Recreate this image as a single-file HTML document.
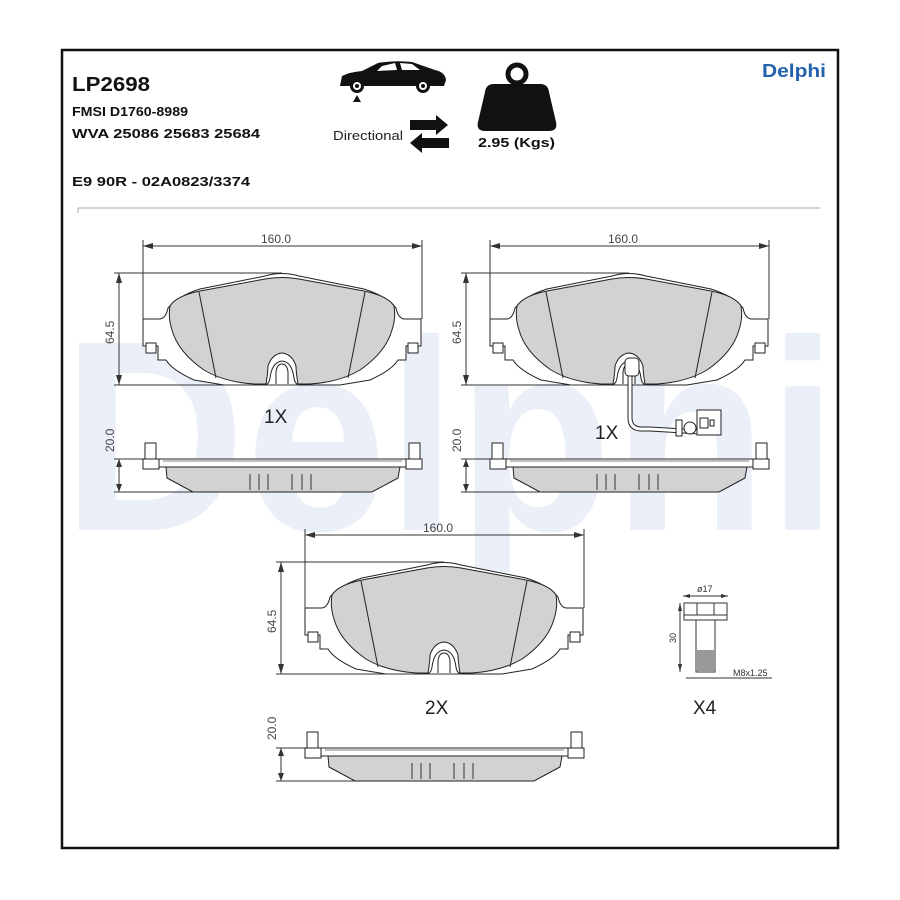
<!DOCTYPE html>
<html><head><meta charset="utf-8"><style>
html,body{margin:0;padding:0;background:#fff;}
svg{display:block;}
text{font-family:"Liberation Sans",sans-serif;}
</style></head><body>
<svg width="900" height="900" viewBox="0 0 900 900" xmlns="http://www.w3.org/2000/svg">
<rect x="0" y="0" width="900" height="900" fill="#fff"/>
<!-- watermark -->
<text x="62" y="530" font-size="272" font-weight="bold" fill="#ebf0f8" textLength="776" lengthAdjust="spacingAndGlyphs">Delphi</text>
<rect x="62" y="50" width="776" height="798" fill="none" stroke="#111" stroke-width="2.5"/>
<!-- header -->
<text x="72" y="91" font-size="20" font-weight="bold" fill="#111" textLength="78" lengthAdjust="spacingAndGlyphs">LP2698</text>
<text x="72" y="116" font-size="13" font-weight="bold" fill="#111" textLength="116" lengthAdjust="spacingAndGlyphs">FMSI D1760-8989</text>
<text x="72" y="138" font-size="13" font-weight="bold" fill="#111" textLength="188" lengthAdjust="spacingAndGlyphs">WVA 25086 25683 25684</text>
<text x="72" y="186" font-size="13" font-weight="bold" fill="#111" textLength="178" lengthAdjust="spacingAndGlyphs">E9 90R - 02A0823/3374</text>
<text x="762" y="77" font-size="18" font-weight="bold" fill="#2462ad" textLength="64" lengthAdjust="spacingAndGlyphs">Delphi</text>
<line x1="78" y1="208" x2="820" y2="208" stroke="#aaa" stroke-width="1"/>
<line x1="78" y1="208" x2="78" y2="213" stroke="#aaa" stroke-width="1"/>
<!-- car -->
<path d="M340,86 L342,76 Q350,72 362,71 L378,63 Q395,60 412,62 L435,70 Q445,72 446,80 L444,86 Z" fill="#111"/>
<path d="M382,66 L395,63 L397,70 L377,71 Z M400,63 L412,64 L420,70 L402,70 Z" fill="#fff"/>
<circle cx="357" cy="86" r="7" fill="#111"/><circle cx="357" cy="86" r="4" fill="#fff"/><circle cx="357" cy="86" r="2" fill="#111"/>
<circle cx="423" cy="86" r="7" fill="#111"/><circle cx="423" cy="86" r="4" fill="#fff"/><circle cx="423" cy="86" r="2" fill="#111"/>
<path d="M357,95 L353,102 L361,102 Z" fill="#111"/>
<text x="333" y="140" font-size="13" fill="#222" textLength="70" lengthAdjust="spacingAndGlyphs">Directional</text>
<path d="M410,120 L436,120 L436,115 L448,125 L436,135 L436,130 L410,130 Z" fill="#111"/>
<path d="M449,138 L422,138 L422,133 L410,143 L422,153 L422,148 L449,148 Z" fill="#111"/>
<!-- weight -->
<circle cx="517" cy="74" r="9" fill="none" stroke="#111" stroke-width="5"/>
<path d="M494,84 L540,84 Q548,84 549,92 L556,122 Q558,131 549,131 L485,131 Q476,131 478,122 L485,92 Q486,84 494,84 Z" fill="#111"/>
<text x="478" y="147" font-size="13" font-weight="bold" fill="#111" textLength="77" lengthAdjust="spacingAndGlyphs">2.95 (Kgs)</text>

<defs>
<g id="pad">
  <path d="M143,319 L160,319 Q166,318 168,308 Q178,296 200,289 L265,276 Q282,271 299,276 L364,289 Q386,296 396,308 Q398,318 404,319 L421,319 L421,346 L406,346 L406,360 L398,360 Q392,370 370,380 L340,385 L300,385 Q295,385 294,378 Q292,362 282,361 Q272,362 270,378 Q269,385 264,385 L224,385 L194,380 Q172,370 166,360 L158,360 L158,346 L143,346 Z" fill="#fff" stroke="#222" stroke-width="1"/>
  <path d="M170,306 Q176,296 200,291 L265,279 Q282,276 299,279 L364,291 Q388,296 394,306 Q396,318 392,330 Q386,352 360,370 Q340,382 310,384 L298,384 Q296,372 296,366 Q292,354 282,353 Q272,354 268,366 Q268,372 266,384 L254,384 Q224,382 204,370 Q178,352 172,330 Q168,318 170,306 Z" fill="#d2d2d2" stroke="#222" stroke-width="1"/>
  <path d="M199,292 L216,378 M365,292 L348,378" stroke="#222" stroke-width="1" fill="none"/>
  <path d="M276,384 L276,372 Q277,364 282,364 Q287,364 288,372 L288,384" fill="#fff" stroke="#222" stroke-width="1"/>
  <rect x="146" y="343" width="10" height="10" fill="#fff" stroke="#222" stroke-width="1"/>
  <rect x="408" y="343" width="10" height="10" fill="#fff" stroke="#222" stroke-width="1"/>
  <line x1="143" y1="246" x2="422" y2="246" stroke="#333" stroke-width="1"/>
  <path d="M143,246 L153,243 L153,249 Z M422,246 L412,243 L412,249 Z" fill="#333"/>
  <line x1="143" y1="240" x2="143" y2="319" stroke="#333" stroke-width="1"/>
  <line x1="422" y1="240" x2="422" y2="319" stroke="#333" stroke-width="1"/>
  <line x1="114" y1="273" x2="282" y2="273" stroke="#333" stroke-width="1"/>
  <line x1="114" y1="385" x2="300" y2="385" stroke="#333" stroke-width="1"/>
  <line x1="119" y1="273" x2="119" y2="385" stroke="#333" stroke-width="1"/>
  <path d="M119,273 L116,283 L122,283 Z M119,385 L116,375 L122,375 Z" fill="#333"/>
  <line x1="114" y1="459" x2="160" y2="459" stroke="#333" stroke-width="1"/>
  <line x1="114" y1="492" x2="240" y2="492" stroke="#333" stroke-width="1"/>
  <line x1="119" y1="459" x2="119" y2="492" stroke="#333" stroke-width="1"/>
  <path d="M119,459 L116,467 L122,467 Z M119,492 L116,484 L122,484 Z" fill="#333"/>
  <rect x="145" y="443" width="11" height="16" fill="#fff" stroke="#222" stroke-width="1"/>
  <rect x="143" y="459" width="16" height="10" fill="#fff" stroke="#222" stroke-width="1"/>
  <rect x="409" y="443" width="11" height="16" fill="#fff" stroke="#222" stroke-width="1"/>
  <rect x="406" y="459" width="16" height="10" fill="#fff" stroke="#222" stroke-width="1"/>
  <path d="M159,459 L406,459 L406,467 L159,467 Z" fill="#fff" stroke="#222" stroke-width="1"/>
  <path d="M163,461 L402,461" stroke="#555" stroke-width="0.8"/>
  <path d="M166,467 L400,467 L398,478 L372,492 L193,492 L167,478 Z" fill="#d2d2d2" stroke="#222" stroke-width="1"/>
  <path d="M250,474 L250,490 M259,474 L259,490 M268,474 L268,490 M292,474 L292,490 M302,474 L302,490 M311,474 L311,490" stroke="#333" stroke-width="1"/>
</g>
</defs>
<use href="#pad"/>
<use href="#pad" transform="translate(347,0)"/>
<use href="#pad" transform="translate(162,289)"/>

<g font-size="12" fill="#444">
<text x="261" y="243">160.0</text>
<text x="608" y="243">160.0</text>
<text x="423" y="532">160.0</text>
<text transform="translate(114,344) rotate(-90)">64.5</text>
<text transform="translate(461,344) rotate(-90)">64.5</text>
<text transform="translate(276,633) rotate(-90)">64.5</text>
<text transform="translate(114,452) rotate(-90)">20.0</text>
<text transform="translate(461,452) rotate(-90)">20.0</text>
<text transform="translate(276,740) rotate(-90)">20.0</text>
</g>
<g font-size="19" fill="#222">
<text x="264" y="423">1X</text>
<text x="595" y="439">1X</text>
<text x="425" y="714">2X</text>
<text x="693" y="714">X4</text>
</g>

<path d="M630,362 L630,418 Q630,428 640,429 L650,429 L700,432" fill="none" stroke="#222" stroke-width="5"/>
<path d="M630,362 L630,418 Q630,428 640,429 L650,429 L700,432" fill="none" stroke="#fff" stroke-width="3"/>
<rect x="625" y="358" width="14" height="18" rx="4" fill="#fff" stroke="#222"/>
<rect x="676" y="420" width="6" height="16" fill="#fff" stroke="#222"/>
<circle cx="690" cy="428" r="6" fill="#fff" stroke="#222"/>
<rect x="697" y="410" width="24" height="25" fill="#fff" stroke="#222"/>
<rect x="700" y="418" width="8" height="10" fill="#fff" stroke="#222"/>
<rect x="710" y="420" width="4" height="6" fill="#fff" stroke="#222"/>

<line x1="683" y1="596" x2="728" y2="596" stroke="#333"/>
<path d="M683,596 L690,594 L690,598 Z M728,596 L721,594 L721,598 Z" fill="#333"/>
<text x="697" y="592" font-size="9" fill="#333">ø17</text>
<rect x="684" y="603" width="43" height="17" fill="#fff" stroke="#333"/>
<line x1="697" y1="603" x2="697" y2="615" stroke="#333"/><line x1="714" y1="603" x2="714" y2="615" stroke="#333"/>
<line x1="684" y1="615" x2="727" y2="615" stroke="#333"/>
<rect x="696" y="620" width="19" height="52" fill="#fff" stroke="#333"/>
<rect x="697" y="650" width="17" height="21" fill="#999"/>
<line x1="680" y1="603" x2="680" y2="672" stroke="#333"/>
<path d="M680,603 L678,611 L682,611 Z M680,672 L678,664 L682,664 Z" fill="#333"/>
<text transform="translate(676,643) rotate(-90)" font-size="9" fill="#333">30</text>
<line x1="686" y1="678" x2="772" y2="678" stroke="#333"/>
<text x="733" y="676" font-size="9" fill="#333">M8x1.25</text>
</svg>
</body></html>
